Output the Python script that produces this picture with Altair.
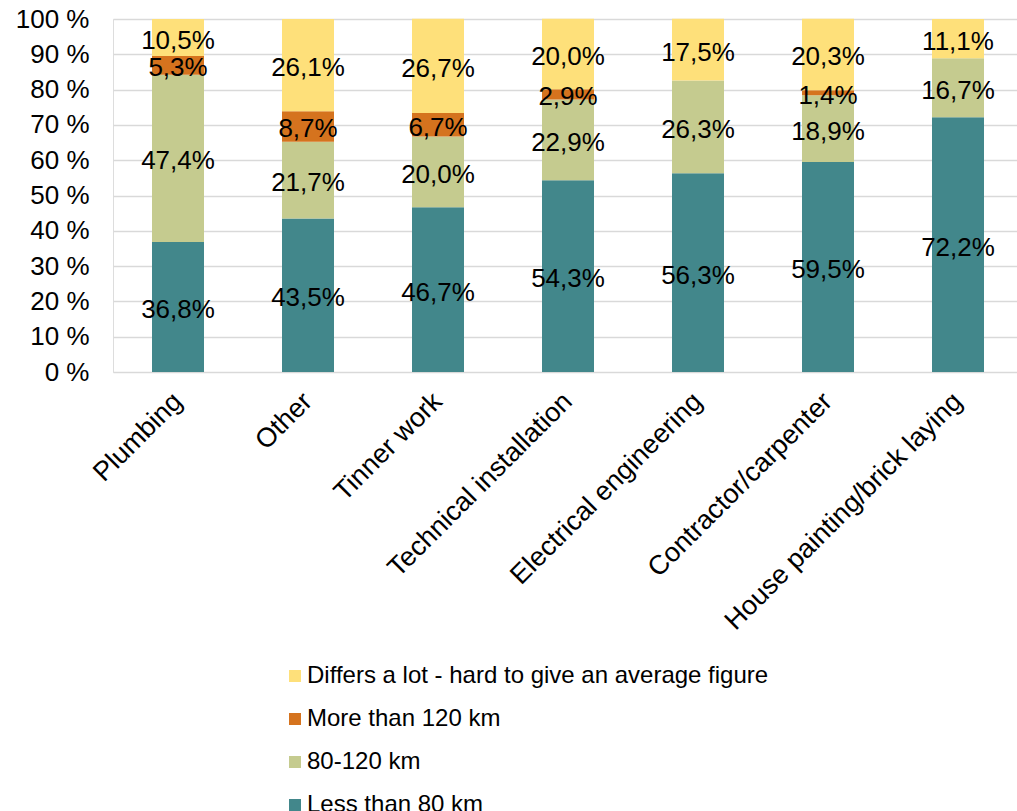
import altair as alt
import pandas as pd

categories = ["Plumbing", "Other", "Tinner work", "Technical installation",
              "Electrical engineering", "Contractor/carpenter", "House painting/brick laying"]
series = ["Differs a lot - hard to give an average figure", "More than 120 km",
          "80-120 km", "Less than 80 km"]
colors = ["#FEE07A", "#D5731E", "#C5CB8F", "#42878B"]

less_80 = [36.8, 43.5, 46.7, 54.3, 56.3, 59.5, 72.2]
km_80_120 = [47.4, 21.7, 20.0, 22.9, 26.3, 18.9, 16.7]
more_120 = [5.3, 8.7, 6.7, 2.9, 0.0, 1.4, 0.0]
differs = [10.5, 26.1, 26.7, 20.0, 17.5, 20.3, 11.1]

y_ticks = [0, 10, 20, 30, 40, 50, 60, 70, 80, 90, 100]

stack_values = [less_80, km_80_120, more_120, differs]
stack_names = [series[3], series[2], series[1], series[0]]

rows = []
for ord_i, (name, vals) in enumerate(zip(stack_names, stack_values)):
    for c, v in zip(categories, vals):
        rows.append({"cat": c, "series": name, "value": v, "ord": ord_i})
df = pd.DataFrame(rows)

FONT = "Liberation Sans"

x_scale = alt.Scale(range=[0, 910], paddingInner=0.6, paddingOuter=0.3)
x_axis = alt.Axis(labelAngle=-45, labelAlign="right", labelBaseline="middle",
                  labelFontSize=27, labelFont=FONT, labelColor="#000000",
                  labelPadding=25, domain=False, domainOpacity=0, ticks=False,
                  grid=False, gridOpacity=0,
                  labelLimit=400, labelOverlap=False, title=None)
y_scale = alt.Scale(domain=[0, 100], nice=False)
y_axis = alt.Axis(values=y_ticks, labelExpr="datum.value + ' %'",
                  labelFontSize=26, labelFont=FONT, labelColor="#000000",
                  labelPadding=24, domain=False, domainOpacity=0, ticks=False,
                  labelOverlap=False,
                  grid=True, gridColor="#D9D9D9", gridWidth=1.5, title=None)

bars = alt.Chart(df).mark_bar().encode(
    x=alt.X("cat:N", sort=categories, scale=x_scale, axis=x_axis),
    y=alt.Y("value:Q", stack="zero", scale=y_scale, axis=y_axis),
    color=alt.Color("series:N", scale=alt.Scale(domain=series, range=colors),
                    legend=alt.Legend(title=None, orient="none", legendX=170, legendY=645,
                                      direction="vertical", symbolType="square",
                                      symbolSize=144, symbolStrokeWidth=0,
                                      labelFontSize=24, labelFont=FONT,
                                      labelColor="#000000", rowPadding=19,
                                      labelOffset=0, labelLimit=800)),
    order=alt.Order("ord:Q", sort="ascending"),
)

labels = alt.Chart(df).transform_filter("datum.value > 0").transform_stack(
    stack="value", groupby=["cat"], as_=["y0", "y1"],
    sort=[alt.SortField("ord", order="ascending")]
).transform_calculate(
    mid="(datum.y0 + datum.y1) / 2",
    lbl="replace(format(datum.value, '.1f'), '.', ',') + '%'"
).mark_text(fontSize=26, font=FONT, color="#000000", baseline="middle", dy=3).encode(
    x=alt.X("cat:N", sort=categories, scale=x_scale, axis=x_axis),
    y=alt.Y("mid:Q", scale=y_scale, axis=y_axis),
    text="lbl:N",
)

chart = alt.layer(bars, labels).properties(
    width=904, height=353,
    autosize=alt.AutoSizeParams(type="none"),
    padding={"left": 113, "top": 19, "right": 0, "bottom": 439},
).configure_view(
    strokeWidth=0, strokeOpacity=0
).configure_axis(
    domain=False, ticks=False
).configure_axisX(grid=False, domain=False
).configure(background="#FFFFFF")

chart.save("out.html", embed_options={"renderer": "svg", "actions": False})
